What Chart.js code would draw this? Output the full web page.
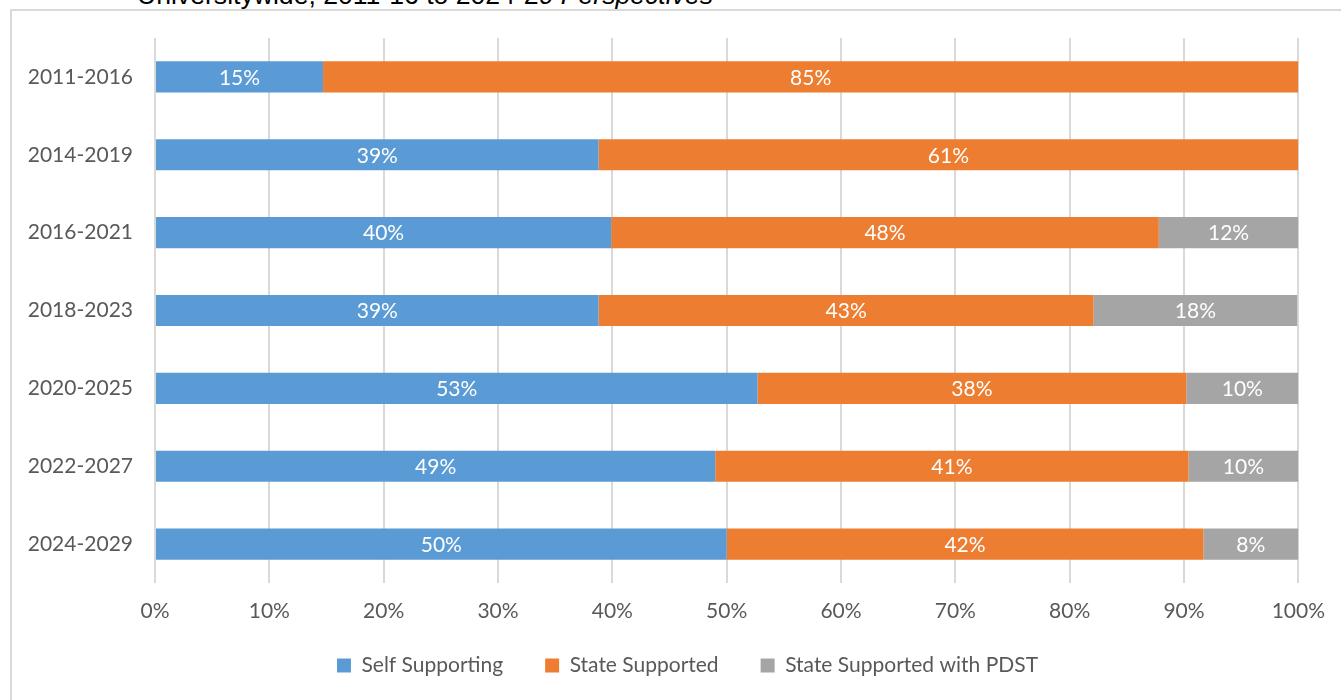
<!DOCTYPE html>
<html>
<head>
<meta charset="utf-8">
<script src="https://cdn.jsdelivr.net/npm/chart.js@4"></script>
<style>
  html, body { margin: 0; padding: 0; background: #fff; overflow: hidden; }
  body { width: 1341px; height: 700px; position: relative; }
  #frame { position: absolute; left: 10px; top: 9px; width: 2000px; height: 2000px;
           border-left: 2px solid #D9D9D9; border-top: 2px solid #D9D9D9; }
  #title { position: absolute; left: 137px; top: -18px; font-family: "Liberation Sans", Arial, sans-serif;
           font-size: 26.6px; line-height: 26.6px; white-space: nowrap; color: #000; }
  #wrap { position: absolute; left: 0; top: 0; width: 1341px; height: 700px; }
</style>
</head>
<body>
<div id="frame"></div>
<div id="title">Universitywide, 2011-16 to 2024-29 <i>Perspectives</i></div>
<div id="wrap"><canvas id="supportChart"></canvas></div>
<script>
var categories = ['2011-2016', '2014-2019', '2016-2021', '2018-2023', '2020-2025', '2022-2027', '2024-2029'];
var selfSupporting = [14.7, 38.8, 39.9, 38.8, 52.7, 49.0, 50.0];
var stateSupported = [85.3, 61.2, 47.9, 43.3, 37.5, 41.4, 41.7];
var stateSupportedPdst = [0, 0, 12.2, 17.8, 9.8, 9.6, 8.3];
var seriesNames = ['Self Supporting', 'State Supported', 'State Supported with PDST'];
var xTicks = [0, 10, 20, 30, 40, 50, 60, 70, 80, 90, 100];

var fontFamily = 'Lato, "Open Sans", sans-serif';
var textColor = '#595959';

// draws the white percent labels inside each bar segment
var barLabels = {
    id: 'barLabels',
    afterDatasetsDraw: function(chart) {
        var ctx = chart.ctx;
        ctx.save();
        ctx.fillStyle = '#ffffff';
        ctx.font = '21px ' + fontFamily;
        ctx.textAlign = 'center';
        ctx.textBaseline = 'middle';
        chart.data.datasets.forEach(function(ds, i) {
            var meta = chart.getDatasetMeta(i);
            meta.data.forEach(function(bar, j) {
                var v = ds.data[j];
                if (!v) return;
                ctx.fillText(Math.round(v) + '%', (bar.x + bar.base) / 2, bar.y + 1);
            });
        });
        ctx.restore();
    }
};

// nudge the legend to where the original sits
var legendShift = {
    id: 'legendShift',
    afterLayout: function(chart) {
        var lg = chart.legend;
        if (!lg) return;
        lg.left += 25; lg.right += 25;
        lg.top -= 11; lg.bottom -= 11;
    }
};

var ctx = document.getElementById('supportChart').getContext('2d');
var chart = new Chart(ctx, {
    type: 'bar',
    data: {
        labels: categories,
        datasets: [
            { label: seriesNames[0], data: selfSupporting, backgroundColor: '#5B9BD5' },
            { label: seriesNames[1], data: stateSupported, backgroundColor: '#ED7D31' },
            { label: seriesNames[2], data: stateSupportedPdst, backgroundColor: '#A5A5A5' }
        ]
    },
    options: {
        indexAxis: 'y',
        responsive: true,
        maintainAspectRatio: false,
        animation: false,
        categoryPercentage: 1,
        barPercentage: 0.4,
        layout: { padding: { top: 38, left: 0, right: 16, bottom: 3 } },
        plugins: {
            tooltip: { enabled: false },
            legend: {
                position: 'bottom',
                labels: {
                    boxWidth: 14,
                    boxHeight: 14,
                    padding: 42,
                    color: textColor,
                    font: { family: fontFamily, size: 21 }
                }
            }
        },
        scales: {
            x: {
                stacked: true,
                min: 0,
                max: 100,
                afterBuildTicks: function(scale) {
                    scale.ticks = xTicks.map(function(v) { return { value: v }; });
                },
                afterFit: function(scale) { scale.height = 41; },
                grid: { color: '#D9D9D9', lineWidth: 2, drawTicks: false },
                border: { display: false },
                ticks: {
                    padding: 16,
                    color: textColor,
                    font: { family: fontFamily, size: 21 },
                    callback: function(v) { return v + '%'; }
                }
            },
            y: {
                stacked: true,
                afterFit: function(scale) { scale.width = 155; },
                grid: { display: false, drawTicks: false },
                border: { display: false },
                ticks: {
                    padding: 22,
                    color: textColor,
                    font: { family: fontFamily, size: 21 }
                }
            }
        }
    },
    plugins: [barLabels, legendShift]
});
</script>
</body>
</html>
